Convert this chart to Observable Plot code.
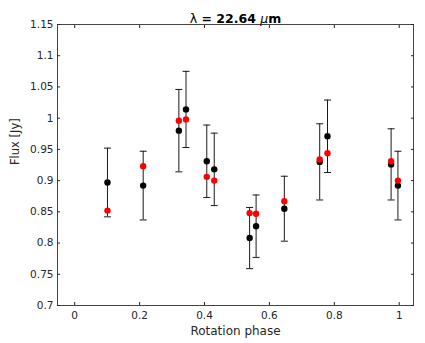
<!DOCTYPE html>
<html><head><meta charset="utf-8">
<script src="https://cdn.jsdelivr.net/npm/d3@7"></script>
<script src="https://cdn.jsdelivr.net/npm/@observablehq/plot@0.6"></script>
<style>body{margin:0;background:#fff}svg{font-family:"DejaVu Sans",sans-serif}</style>
</head><body><div id="chart"></div>
<script>
const phase     = [0.101, 0.211, 0.321, 0.343, 0.407, 0.430, 0.539, 0.559, 0.646, 0.755, 0.779, 0.975, 0.996];
const fluxBlack = [0.897, 0.892, 0.980, 1.014, 0.931, 0.918, 0.808, 0.827, 0.855, 0.930, 0.971, 0.926, 0.892];
const errBlack  = [0.055, 0.055, 0.066, 0.061, 0.058, 0.058, 0.049, 0.050, 0.052, 0.061, 0.058, 0.057, 0.055];
const fluxRed   = [0.852, 0.923, 0.996, 0.998, 0.906, 0.900, 0.848, 0.847, 0.867, 0.934, 0.944, 0.931, 0.900];
const xTicks = [0, 0.2, 0.4, 0.6, 0.8, 1];
const yTicks = [0.7, 0.75, 0.8, 0.85, 0.9, 0.95, 1, 1.05, 1.1, 1.15];
const yTickLabels = ["0.7","0.75","0.8","0.85","0.9","0.95","1","1.05","1.1","1.15"];
const xTickLabels = ["0","0.2","0.4","0.6","0.8","1"];
const titleText = "λ = 22.64 μm";

const rows = phase.map((p, i) => ({p, b: fluxBlack[i], r: fluxRed[i], lo: fluxBlack[i]-errBlack[i], hi: fluxBlack[i]+errBlack[i]}));
const axisColor = "#262626";
const capSymbol = {draw(ctx) { ctx.moveTo(-3.5, 0); ctx.lineTo(3.5, 0); }};

const chart = Plot.plot({
  width: 425, height: 343,
  marginLeft: 57, marginRight: 12, marginTop: 24, marginBottom: 38,
  style: {fontFamily: "DejaVu Sans, sans-serif", fontSize: "10px", color: axisColor},
  x: {type: "linear", domain: [-0.053, 1.044], label: null},
  y: {type: "linear", domain: [0.7, 1.15], label: null},
  marks: [
    Plot.frame({stroke: "#444", strokeWidth: 1}),
    Plot.axisX({anchor: "bottom", ticks: xTicks, tickSize: -3, text: null, label: null, stroke: axisColor}),
    Plot.axisX({anchor: "top", ticks: xTicks, tickSize: -3, text: null, label: null, stroke: axisColor}),
    Plot.axisY({anchor: "left", ticks: yTicks, tickSize: -3, text: null, label: null, stroke: axisColor}),
    Plot.axisY({anchor: "right", ticks: yTicks, tickSize: -3, text: null, label: null, stroke: axisColor}),
    Plot.text(xTicks, {x: d => d, frameAnchor: "bottom", dy: 13, text: (d, i) => xTickLabels[i], fill: axisColor, fontSize: 10.5}),
    Plot.text(yTicks, {y: d => d, frameAnchor: "left", dx: -4, textAnchor: "end", text: (d, i) => yTickLabels[i], fill: axisColor, fontSize: 10.5}),
    Plot.text(["Rotation phase"], {frameAnchor: "bottom", dy: 29, fill: axisColor, fontSize: 12}),
    Plot.text(["Flux [Jy]"], {frameAnchor: "left", dx: -42, rotate: -90, fill: axisColor, fontSize: 11.5}),
    Plot.text([titleText], {frameAnchor: "top", dy: -10, fill: "#000", fontSize: 12.5, fontWeight: "bold", className: "ttl"}),
    Plot.ruleX(rows, {x: "p", y1: "lo", y2: "hi", stroke: "#1a1a1a", strokeWidth: 1}),
    Plot.dot(rows, {x: "p", y: "lo", symbol: capSymbol, r: 3, stroke: "#1a1a1a", fill: "none", strokeWidth: 1}),
    Plot.dot(rows, {x: "p", y: "hi", symbol: capSymbol, r: 3, stroke: "#1a1a1a", fill: "none", strokeWidth: 1}),
    Plot.dot(rows, {x: "p", y: "b", r: 3.2, fill: "black", stroke: "none"}),
    Plot.dot(rows, {x: "p", y: "r", r: 3.2, fill: "#ff0000", stroke: "none"})
  ]
});
// style title: λ and μ regular weight, μ italic
const t = chart.querySelector("g.ttl text");
if (t) {
  t.textContent = "";
  const parts = [["λ", "normal", "normal"], [" = 22.64 ", "bold", "normal"], ["μ", "normal", "italic"], ["m", "bold", "normal"]];
  for (const [s, w, st] of parts) {
    const ts = document.createElementNS("http://www.w3.org/2000/svg", "tspan");
    ts.textContent = s; ts.setAttribute("font-weight", w); ts.setAttribute("font-style", st);
    t.appendChild(ts);
  }
}
document.getElementById("chart").appendChild(chart);
</script>
</body></html>
